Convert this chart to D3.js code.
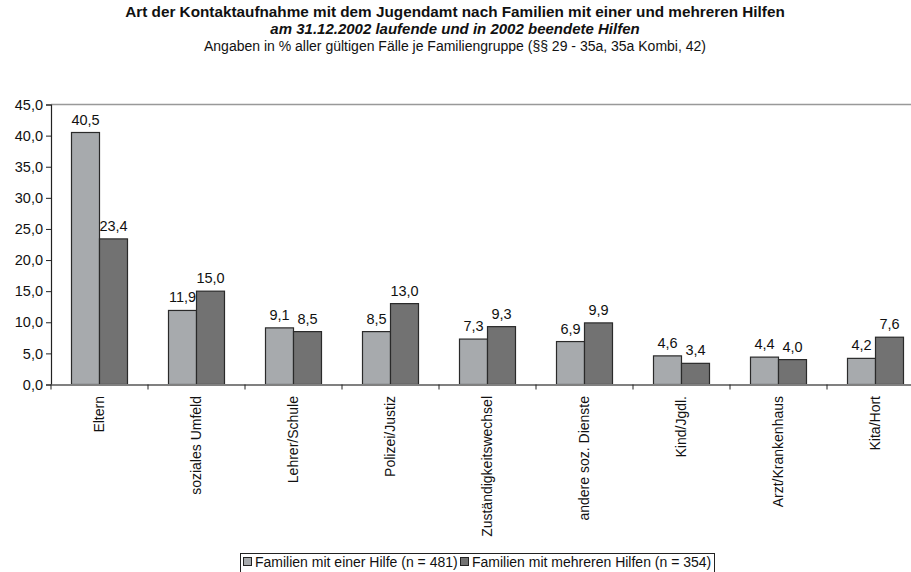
<!DOCTYPE html>
<html>
<head>
<meta charset="utf-8">
<script src="https://cdn.jsdelivr.net/npm/d3@7"></script>
<style>
  body { margin: 0; background: #fff; }
  svg { display: block; font-family: "Liberation Sans", Arial, sans-serif; }
</style>
</head>
<body>
<div id="chart"></div>
<script>
var categories = ["Eltern", "soziales Umfeld", "Lehrer/Schule", "Polizei/Justiz", "Zuständigkeitswechsel",
	"andere soz. Dienste", "Kind/Jgdl.", "Arzt/Krankenhaus", "Kita/Hort"];
var seriesNames = ["Familien mit einer Hilfe (n = 481)", "Familien mit mehreren Hilfen (n = 354)"];
var einerHilfe = [40.5, 11.9, 9.1, 8.5, 7.3, 6.9, 4.6, 4.4, 4.2];
var mehrerenHilfen = [23.4, 15.0, 8.5, 13.0, 9.3, 9.9, 3.4, 4.0, 7.6];
var yTicks = [0, 5, 10, 15, 20, 25, 30, 35, 40, 45];

var colors = ["#a7aaad", "#727272"];

function plot() {
	var width = 911, height = 572;
	var left = 51, top = 104.5, bottom = 384.5;
	var band = 97;

	var fmt = function(v) { return d3.format(".1f")(v).replace(".", ","); };

	var svg = d3.select("#chart").append("svg")
	.attr("width", width)
	.attr("height", height);

	// titles
	var titles = svg.append("g").attr("text-anchor", "middle").attr("fill", "#111");
	titles.append("text").attr("x", 455).attr("y", 17)
	.style("font-size", "15.3px").style("font-weight", "bold")
	.text("Art der Kontaktaufnahme mit dem Jugendamt nach Familien mit einer und mehreren Hilfen");
	titles.append("text").attr("x", 455).attr("y", 34)
	.style("font-size", "15px").style("font-weight", "bold").style("font-style", "italic")
	.text("am 31.12.2002 laufende und in 2002 beendete Hilfen");
	titles.append("text").attr("x", 455).attr("y", 51)
	.style("font-size", "14px")
	.text("Angaben in % aller gültigen Fälle je Familiengruppe (§§ 29 - 35a, 35a Kombi, 42)");

	var x0 = d3.scaleBand()
	.domain(categories)
	.range([left, left + band * categories.length]);

	var x1 = d3.scaleBand()
	.domain([0, 1])
	.range([20.5, 76.5]);

	var y = d3.scaleLinear()
	.domain([0, 45])
	.range([bottom, top]);

	// top border line
	svg.append("line")
	.attr("x1", left).attr("x2", left + band * categories.length)
	.attr("y1", y(45)).attr("y2", y(45))
	.attr("stroke", "#999").attr("stroke-width", 1.5);

	// bars
	var groups = svg.selectAll(".grp")
	.data(categories)
	.enter().append("g")
	.attr("class", "grp")
	.attr("transform", function(d) { return "translate(" + x0(d) + ",0)"; });

	var rows = [einerHilfe, mehrerenHilfen];
	groups.selectAll("rect")
	.data(function(d, i) { return rows.map(function(r, k) { return {k: k, v: r[i]}; }); })
	.enter().append("rect")
	.attr("x", function(d) { return x1(d.k); })
	.attr("y", function(d) { return y(d.v); })
	.attr("width", x1.bandwidth())
	.attr("height", function(d) { return y(0) - y(d.v); })
	.attr("fill", function(d) { return colors[d.k]; })
	.attr("stroke", "#2a2a2a")
	.attr("stroke-width", 1.2);

	groups.selectAll(".val")
	.data(function(d, i) { return rows.map(function(r, k) { return {k: k, v: r[i]}; }); })
	.enter().append("text")
	.attr("class", "val")
	.attr("x", function(d) { return x1(d.k) + x1.bandwidth() / 2; })
	.attr("y", function(d) { return y(d.v) - 8; })
	.attr("text-anchor", "middle")
	.style("font-size", "14.5px")
	.attr("fill", "#111")
	.text(function(d) { return fmt(d.v); });

	// y axis
	var yAxis = d3.axisLeft(y)
	.tickValues(yTicks)
	.tickSize(5)
	.tickPadding(3)
	.tickFormat(fmt);
	var gy = svg.append("g")
	.attr("transform", "translate(" + left + ",0)")
	.call(yAxis);
	gy.select(".domain").attr("stroke", "#222").attr("stroke-width", 1.2);
	gy.selectAll(".tick line").attr("stroke", "#222");
	gy.selectAll(".tick text")
	.style("font-size", "14.5px")
	.style("font-family", "Liberation Sans, Arial, sans-serif")
	.attr("fill", "#111");

	// x axis
	var xAxis = d3.axisBottom(x0).tickSize(0).tickFormat("");
	var gx = svg.append("g")
	.attr("transform", "translate(0," + bottom + ")")
	.call(xAxis);
	gx.select(".domain").attr("stroke", "#808080").attr("stroke-width", 2);

	// boundary ticks between categories
	svg.selectAll(".bt")
	.data(categories)
	.enter().append("line")
	.attr("class", "bt")
	.attr("x1", function(d) { return x0(d); })
	.attr("x2", function(d) { return x0(d); })
	.attr("y1", bottom).attr("y2", bottom + 5)
	.attr("stroke", "#222");

	// category labels
	svg.selectAll(".cat")
	.data(categories)
	.enter().append("text")
	.attr("class", "cat")
	.attr("text-anchor", "end")
	.attr("dy", "0.35em")
	.attr("transform", function(d) {
		return "translate(" + (x0(d) + x0.bandwidth() / 2) + "," + 396 + ") rotate(-90)";
	})
	.style("font-size", "14px")
	.attr("fill", "#111")
	.text(function(d) { return d; });

	// legend
	var lg = svg.append("g");
	lg.append("rect")
	.attr("x", 240.5).attr("y", 553.5)
	.attr("width", 474).attr("height", 30)
	.attr("fill", "#fff").attr("stroke", "#222");
	var lx = [243, 460];
	seriesNames.forEach(function(s, i) {
		lg.append("rect")
		.attr("x", lx[i] + 0.5).attr("y", 557.5)
		.attr("width", 8).attr("height", 8)
		.attr("fill", colors[i]).attr("stroke", "#222");
		lg.append("text")
		.attr("x", lx[i] + 12).attr("y", 567)
		.style("font-size", "14px")
		.attr("fill", "#111")
		.text(s);
	});
}

document.addEventListener("DOMContentLoaded", function() {
	plot();
});
</script>
</body>
</html>
